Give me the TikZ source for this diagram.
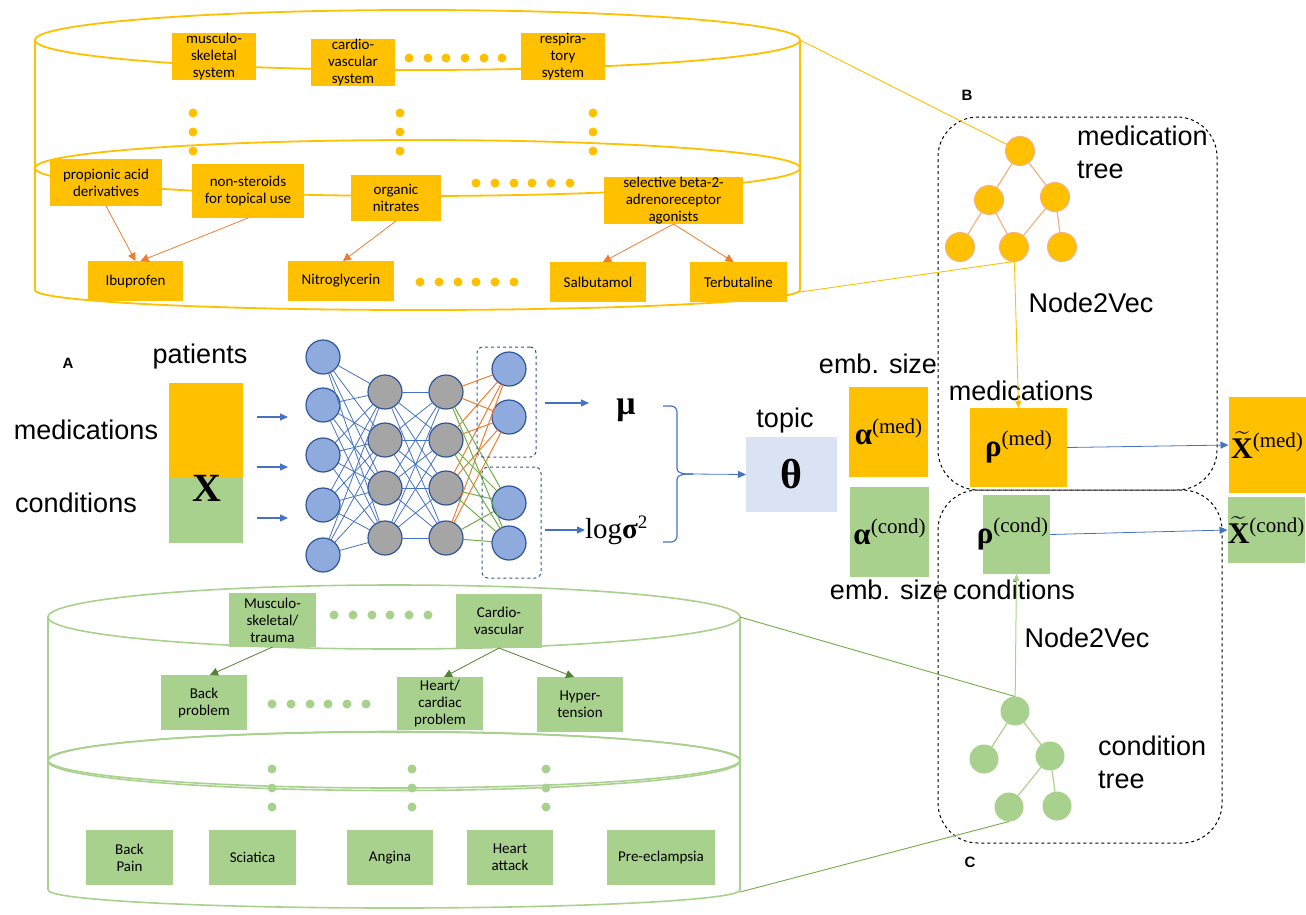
\documentclass[tikz,border=0pt]{standalone}
\usepackage{amsmath}
\usepackage{fontspec}
\setmainfont{Liberation Sans}
\newfontfamily\boxfont{Carlito}
\newfontfamily\mserif{Liberation Serif}
\usetikzlibrary{arrows.meta}
\definecolor{gold}{HTML}{FFC000}
\definecolor{lgreen}{HTML}{A9D18E}
\definecolor{dgreen}{HTML}{548235}
\definecolor{mgreen}{HTML}{70AD47}
\definecolor{oarr}{HTML}{ED7D31}
\definecolor{nblue}{HTML}{4472C4}
\definecolor{nfill}{HTML}{8FAADC}
\definecolor{nborder}{HTML}{2F5597}
\definecolor{ngrey}{HTML}{A5A5A5}
\definecolor{thetabg}{HTML}{DAE3F3}
\definecolor{salmon}{HTML}{F4B183}
\newcommand\supx[2]{{\mserif\bfseries\fontsize{31}{31}\selectfont #1}\raisebox{11pt}{\mserif\fontsize{21}{21}\selectfont(#2)}}
\newcommand\xsupx[1]{{\mserif\bfseries\fontsize{30}{30}\selectfont$\widetilde{\mbox{X}}$}\raisebox{11pt}{\mserif\fontsize{21}{21}\selectfont(#1)}}
\begin{document}
\begin{tikzpicture}[x=1pt,y=-1pt, every node/.style={inner sep=0pt, outer sep=0pt}]
\tikzset{
 obox/.style={fill=gold, font=\boxfont\fontsize{15}{17}\selectfont, align=center},
 gbox/.style={fill=lgreen, font=\boxfont\fontsize{15}{17}\selectfont, align=center},
 lbl/.style={font=\fontsize{27}{33}\selectfont},
 tag/.style={font=\bfseries\fontsize{15}{15}\selectfont},
 oarrow/.style={draw=oarr, line width=0.8pt, -{Triangle[length=8pt,width=8pt]}},
 garrow/.style={draw=dgreen, line width=0.8pt, -{Triangle[length=8pt,width=8pt]}},
 barrow/.style={draw=nblue, line width=1.2pt, -{Triangle[length=8pt,width=7pt]}},
 thinarrow/.style={draw=nblue, line width=0.8pt, -{Triangle[length=8pt,width=7pt]}},
 neur/.style={circle, minimum size=34pt, draw=nborder, line width=1.2pt, fill=nfill},
 hid/.style={neur, fill=ngrey},
 mt/.style={circle, minimum size=29pt, fill=gold, draw=salmon, line width=1pt},
 ct/.style={circle, minimum size=29pt, fill=lgreen},
 dbox/.style={draw=black, dashed, line width=1pt, rounded corners=40pt},
 nbox/.style={draw=nborder, dashed, line width=1pt, rounded corners=6pt},
}
\useasboundingbox (0,0) rectangle (1306,914);

% ---------- top (orange) cylinder ----------
\begin{scope}[draw=gold, line width=1.8pt]
\draw (417.5,40) ellipse [x radius=382.5pt, y radius=30pt];
\draw (417.5,168) ellipse [x radius=382.5pt, y radius=28pt];
\draw (35,40) -- (35,290);
\draw (800,40) -- (800,290);
\draw (35,290) arc[start angle=180, end angle=360, x radius=382.5pt, y radius=20pt];
\end{scope}
\foreach \x in {409,428,446,465,484,502} \fill[gold] (\x,58) circle (4.5pt);
\foreach \x in {193,400,593} \foreach \y in {113,132,151} \fill[gold] (\x,\y) circle (4.5pt);
\foreach \x in {476,495,514,532,551,570} \fill[gold] (\x,183) circle (4.5pt);
\foreach \x in {420,439,458,476,495,514} \fill[gold] (\x,282) circle (4.5pt);

\node[obox, minimum width=84pt, minimum height=47pt] (mus) at (214,56.5) {musculo-\\skeletal\\system};
\node[obox, minimum width=84pt, minimum height=47pt] (card) at (353,62.5) {cardio-\\vascular\\system};
\node[obox, minimum width=84pt, minimum height=47pt] (resp) at (563,56.5) {respira-\\tory\\system};
\node[obox, minimum width=112pt, minimum height=47pt] (prop) at (106,182.5) {propionic acid\\derivatives};
\node[obox, minimum width=112pt, minimum height=54pt] (nonst) at (248,191) {non-steroids\\for topical use};
\node[obox, minimum width=90pt, minimum height=46pt] (orgn) at (396,198) {organic\\nitrates};
\node[obox, minimum width=139pt, minimum height=47pt] (sel) at (673.5,200.5) {selective beta-2-\\adrenoreceptor\\agonists};
\node[obox, minimum width=95pt, minimum height=40pt] (ibu) at (135.5,281) {Ibuprofen};
\node[obox, minimum width=106pt, minimum height=40pt] (nitro) at (341,281) {Nitroglycerin};
\node[obox, minimum width=96pt, minimum height=40pt] (salb) at (598,282) {Salbutamol};
\node[obox, minimum width=97pt, minimum height=40pt] (terb) at (738.5,282) {Terbutaline};

\draw[oarrow] (prop.south) -- (ibu.north);
\draw[oarrow] (nonst.south) -- ([xshift=5pt]ibu.north);
\draw[oarrow] (orgn.south) -- ([xshift=2pt]nitro.north);
\draw[oarrow] (sel.south) -- ([xshift=5pt]salb.north);
\draw[oarrow] (sel.south) -- ([xshift=-5pt]terb.north);

% ---------- bottom (green) cylinder ----------
\begin{scope}[draw=lgreen, line width=1.6pt]
\draw (394,617) ellipse [x radius=346pt, y radius=32pt];
\draw (394,760) ellipse [x radius=346pt, y radius=28pt];
\draw (394,761) ellipse [x radius=346pt, y radius=29.5pt];
\draw (48,617) -- (48,890);
\draw (740,617) -- (740,890);
\draw (48,890) arc[start angle=180, end angle=360, x radius=346pt, y radius=18pt];
\end{scope}
\foreach \x in {334,353,372,390,409,428} \fill[lgreen] (\x,615) circle (4.5pt);
\foreach \x in {272,291,310,328,347,366} \fill[lgreen] (\x,704) circle (4.5pt);
\foreach \x in {272,412,546} \foreach \y in {769,788,807} \fill[lgreen] (\x,\y) circle (4.5pt);

\node[gbox, minimum width=87pt, minimum height=54pt] (gmus) at (272.5,620) {Musculo-\\skeletal/\\trauma};
\node[gbox, minimum width=86pt, minimum height=54pt] (gcard) at (499,621) {Cardio-\\vascular};
\node[gbox, minimum width=86pt, minimum height=55pt] (back) at (204,702.5) {Back\\problem};
\node[gbox, minimum width=86pt, minimum height=53pt] (heart) at (440,703.5) {Heart/\\cardiac\\problem};
\node[gbox, minimum width=86pt, minimum height=55pt] (hyper) at (580,704.5) {Hyper-\\tension};
\node[gbox, minimum width=87pt, minimum height=55pt] (bpain) at (129.5,857.5) {Back\\Pain};
\node[gbox, minimum width=87pt, minimum height=55pt] (sciat) at (252.5,857.5) {Sciatica};
\node[gbox, minimum width=86pt, minimum height=55pt] (angina) at (390,857.5) {Angina};
\node[gbox, minimum width=86pt, minimum height=55pt] (hatt) at (510,857.5) {Heart\\attack};
\node[gbox, minimum width=108pt, minimum height=55pt] (preec) at (661,857.5) {Pre-eclampsia};

\draw[garrow] (gmus.south) -- ([xshift=6pt]back.north);
\draw[garrow] (gcard.south) -- ([xshift=4pt]heart.north);
\draw[garrow] (gcard.south) -- ([xshift=-6pt]hyper.north);

% ---------- A: encoder ----------
\node[tag] (tA) at (68,363) {A};
\node[lbl] (patients) at (200,357) {patients};
\node[lbl] (medlbl) at (86,430) {medications};
\node[lbl] (condlbl) at (76,503) {conditions};
\node[fill=gold, minimum width=74pt, minimum height=94pt] (xmed) at (206,430) {};
\node[fill=lgreen, minimum width=74pt, minimum height=66pt] (xcond) at (206,510) {};
\node[font=\mserif\bfseries\fontsize{40}{40}\selectfont] (Xlbl) at (207,488) {X};

\foreach \i/\y in {1/417,2/467,3/518} {
  \coordinate (in\i s) at (257,\y);
  \coordinate (in\i e) at (288,\y);
  \draw[barrow] (in\i s) -- (in\i e);
}

\foreach \i/\y in {1/357,2/405,3/455,4/505,5/555} \node[neur] (a\i) at (323,\y) {};
\foreach \i/\y in {1/392,2/440,3/488,4/538} \node[hid] (b\i) at (385,\y) {};
\foreach \i/\y in {1/392,2/440,3/488,4/538} \node[hid] (c\i) at (446,\y) {};
\node[neur] (d1) at (509,369) {};
\node[neur] (d2) at (509,417) {};
\node[neur] (d3) at (509,503) {};
\node[neur] (d4) at (509,543) {};
\foreach \i in {1,...,5} \foreach \j in {1,...,4} \draw[nblue, line width=0.8pt] (a\i) -- (b\j);
\foreach \i in {1,...,4} \foreach \j in {1,...,4} \draw[nblue, line width=0.8pt] (b\i) -- (c\j);
\foreach \i in {1,...,4} \foreach \j in {1,2} \draw[oarr, line width=1pt] (c\i) -- (d\j);
\foreach \i in {1,...,4} \foreach \j in {3,4} \draw[mgreen, line width=1pt] (c\i) -- (d\j);
\node[nbox, minimum width=59pt, minimum height=110pt] (topgrp) at (506.5,402) {};
\node[nbox, minimum width=59pt, minimum height=111pt] (botgrp) at (511.5,522.5) {};

\node[font=\mserif\bfseries\fontsize{34}{34}\selectfont] (mu) at (626,410) {μ};
\node[font=\mserif\fontsize{29}{29}\selectfont, anchor=west] (logs) at (585,530) {log{\bfseries σ}\raisebox{10pt}{\fontsize{19}{19}\selectfont 2}};
\coordinate (muS) at (545,403);
\coordinate (muE) at (589,403);
\coordinate (lsS) at (545,530);
\draw[barrow] (muS) -- (muE);
\draw[barrow] (lsS) -- (logs.west);

\coordinate (brtip) at (693,474);
\draw[nblue, line width=1.2pt] (663,406) -- (671,406) to[out=0,in=90] (677,412) -- (677,468) to[out=-90,in=180] (brtip);
\draw[nblue, line width=1.2pt] (brtip) to[out=180,in=90] (677,480) -- (677,536) to[out=-90,in=0] (671,542) -- (663,542);

\node[fill=thetabg, minimum width=91pt, minimum height=75pt, font=\mserif\bfseries\fontsize{42}{42}\selectfont] (theta) at (791.5,474.5) {θ};
\node[lbl] (topic) at (785,421) {topic};
\draw[thinarrow] (brtip) -- (theta.west);

\node[fill=gold, minimum width=79pt, minimum height=90pt] (amed) at (888.5,432) {\supx{α}{med}};
\node[fill=lgreen, minimum width=79pt, minimum height=90pt] (acond) at (889.5,532) {\supx{α}{cond}};
\node[lbl] (emb1) at (878,364) {emb. size};
\node[lbl] (emb2) at (889,590) {emb. size};

% ---------- B / C ----------
\node[dbox, minimum width=279pt, minimum height=373pt] (boxB) at (1077.5,303.5) {};
\node[dbox, minimum width=284pt, minimum height=353pt] (boxC) at (1080,666.5) {};
\node[tag] (tB) at (967,95) {B};
\node[tag] (tC) at (970,862) {C};

\node[mt] (mr) at (1020,151) {};
\node[mt] (ml1) at (989,200) {};
\node[mt] (mr1) at (1055,197) {};
\node[mt] (ml2) at (960,247) {};
\node[mt] (mm2) at (1014,247) {};
\node[mt] (mr2) at (1062,247) {};
\draw[salmon, line width=1.2pt] (mr) -- (ml1) (mr) -- (mr1) (ml1) -- (ml2) (ml1) -- (mm2) (mr1) -- (mm2) (mr1) -- (mr2);
\node[lbl, anchor=north west, align=left] (mtreelbl) at (1077,126) {medication\\tree};

\node[ct] (cr) at (1015,711) {};
\node[ct] (cl1) at (984,759) {};
\node[ct] (cr1) at (1050,756) {};
\node[ct] (cl2) at (1009,807) {};
\node[ct] (cr2) at (1057,806) {};
\draw[lgreen, line width=1.2pt] (cr) -- (cl1) (cr) -- (cr1) (cr1) -- (cl2) (cr1) -- (cr2);
\node[lbl, anchor=north west, align=left] (ctreelbl) at (1098,736) {condition\\tree};

\coordinate (ocylT) at (800,40);
\coordinate (ocylB) at (800,292);
\draw[gold, line width=0.9pt] (ocylT) -- (mr);
\draw[gold, line width=0.9pt] (ocylB) -- (mm2.south);
\coordinate (gcylT) at (740,617);
\coordinate (gcylB) at (740,892);
\draw[mgreen, line width=0.9pt] (gcylT) -- (cr.north);
\draw[mgreen, line width=0.9pt] (gcylB) -- (cl2.south);

\node[fill=gold, minimum width=97pt, minimum height=79pt] (rmed) at (1018.5,447.5) {\supx{ρ}{med}};
\node[fill=lgreen, minimum width=67pt, minimum height=79pt, text width=67pt, align=center] (rcond) at (1016.5,534.5) {\hspace*{-8pt}\supx{ρ}{cond}\hspace*{-8pt}};
\node[fill=gold, minimum width=77pt, minimum height=96pt, text width=77pt, align=center] (xtmed) at (1267,445) {\xsupx{med}};
\node[fill=lgreen, minimum width=77pt, minimum height=66pt, text width=77pt, align=center] (xtcond) at (1266,530) {\xsupx{cond}};

\node[lbl] (medlbl2) at (1021,391) {medications};
\node[lbl] (condlbl2) at (1014,590) {conditions};
\node[lbl] (n2v1) at (1091,303) {Node2Vec};
\node[lbl] (n2v2) at (1087,638) {Node2Vec};

\draw[gold, line width=0.9pt, -{Triangle[length=7pt,width=6pt]}] (mm2) -- (rmed.north);
\draw[lgreen, line width=1pt, -{Triangle[length=7pt,width=6pt]}] (cr) -- (rcond.south);
\draw[thinarrow] (rmed.east) -- (xtmed.west);
\draw[thinarrow] (rcond.east) -- (xtcond.west);
\end{tikzpicture}
\end{document}
